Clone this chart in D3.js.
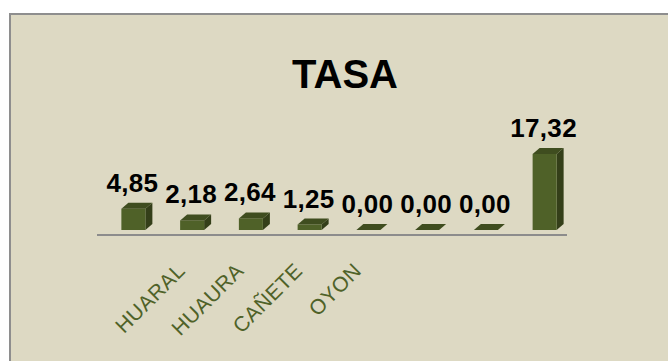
<!DOCTYPE html>
<html>
<head>
<meta charset="utf-8">
<script src="https://cdn.jsdelivr.net/npm/d3@7"></script>
<style>
  body { margin: 0; background: #fff; }
  svg { display: block; }
</style>
</head>
<body>
<svg id="chart" width="668" height="361"></svg>
<script>
// data
const categories = ['HUARAL', 'HUAURA', 'CAÑETE', 'OYON', 'c5', 'c6', 'c7', 'c8']
const tickLabels = ['HUARAL', 'HUAURA', 'CAÑETE', 'OYON', '', '', '', '']
const tasa = [4.85, 2.18, 2.64, 1.25, 0.00, 0.00, 0.00, 17.32]

const W = 668, H = 361
const depthX = 7, depthY = 6   // 3d depth of the bars
const barW = 24

let svg = d3.select('#chart')

// chart area background with grey frame (frame runs off the right/bottom)
svg.append('rect')
   .attr('x', 10).attr('y', 14)
   .attr('width', W).attr('height', H)
   .attr('fill', '#DDD9C3')
   .attr('stroke', '#8E8E8E')
   .attr('stroke-width', 2)

svg.append('text')
   .attr('x', 345).attr('y', 88)
   .attr('text-anchor', 'middle')
   .style('font-family', 'Liberation Sans, Arial, sans-serif')
   .style('font-weight', 'bold')
   .style('font-size', '40px')
   .attr('fill', '#000')
   .text('TASA')

let x = d3.scaleBand()
          .domain(categories)
          .range([97, 567])

// bars sit back by one depth step from the floor edge
let base = 235 - 5
let y = d3.scaleLinear()
          .domain([0, 18])
          .range([base, base - 79])

// floor edge / axis line
svg.append('line')
   .attr('x1', x.range()[0]).attr('x2', x.range()[1])
   .attr('y1', 235).attr('y2', 235)
   .attr('stroke', '#8C8C8C')
   .attr('stroke-width', 2)

let cx = (d) => x(d) + x.bandwidth() / 2 + depthX

let bars = svg.selectAll('g.bar')
              .data(categories.map((c, i) => ({ c: c, v: tasa[i], t: tickLabels[i] })))
              .enter()
              .append('g')
              .attr('class', 'bar')

// side face
bars.append('path')
    .attr('d', (d) => {
        let x1 = cx(d.c) + barW / 2, yt = y(d.v)
        return `M${x1},${yt}L${x1 + depthX},${yt - depthY}L${x1 + depthX},${base - depthY}L${x1},${base}Z`
    })
    .attr('fill', '#343F19')

// front face
bars.append('rect')
    .attr('x', (d) => cx(d.c) - barW / 2)
    .attr('y', (d) => y(d.v))
    .attr('width', barW)
    .attr('height', (d) => base - y(d.v))
    .attr('fill', '#4F6128')

// top face
bars.append('path')
    .attr('d', (d) => {
        let x0 = cx(d.c) - barW / 2, yt = y(d.v)
        return `M${x0},${yt}L${x0 + depthX},${yt - depthY}L${x0 + barW + depthX},${yt - depthY}L${x0 + barW},${yt}Z`
    })
    .attr('fill', '#3F4D1F')

// value labels
bars.append('text')
    .attr('x', (d) => cx(d.c) - 1)
    .attr('y', (d) => y(d.v) - depthY - 11)
    .attr('text-anchor', 'middle')
    .style('font-family', 'Liberation Sans, Arial, sans-serif')
    .style('font-weight', 'bold')
    .style('font-size', '26px')
    .style('letter-spacing', '0.3px')
    .attr('fill', '#000')
    .text((d) => d3.format('.2f')(d.v).replace('.', ','))

// rotated category labels
bars.append('text')
    .attr('transform', (d) => `translate(${cx(d.c) + 53},272) rotate(-45)`)
    .attr('text-anchor', 'end')
    .style('font-family', 'Liberation Sans, Arial, sans-serif')
    .style('font-size', '21px')
    .style('letter-spacing', '0.5px')
    .attr('fill', '#4F6228')
    .text((d) => d.t)
</script>
</body>
</html>
